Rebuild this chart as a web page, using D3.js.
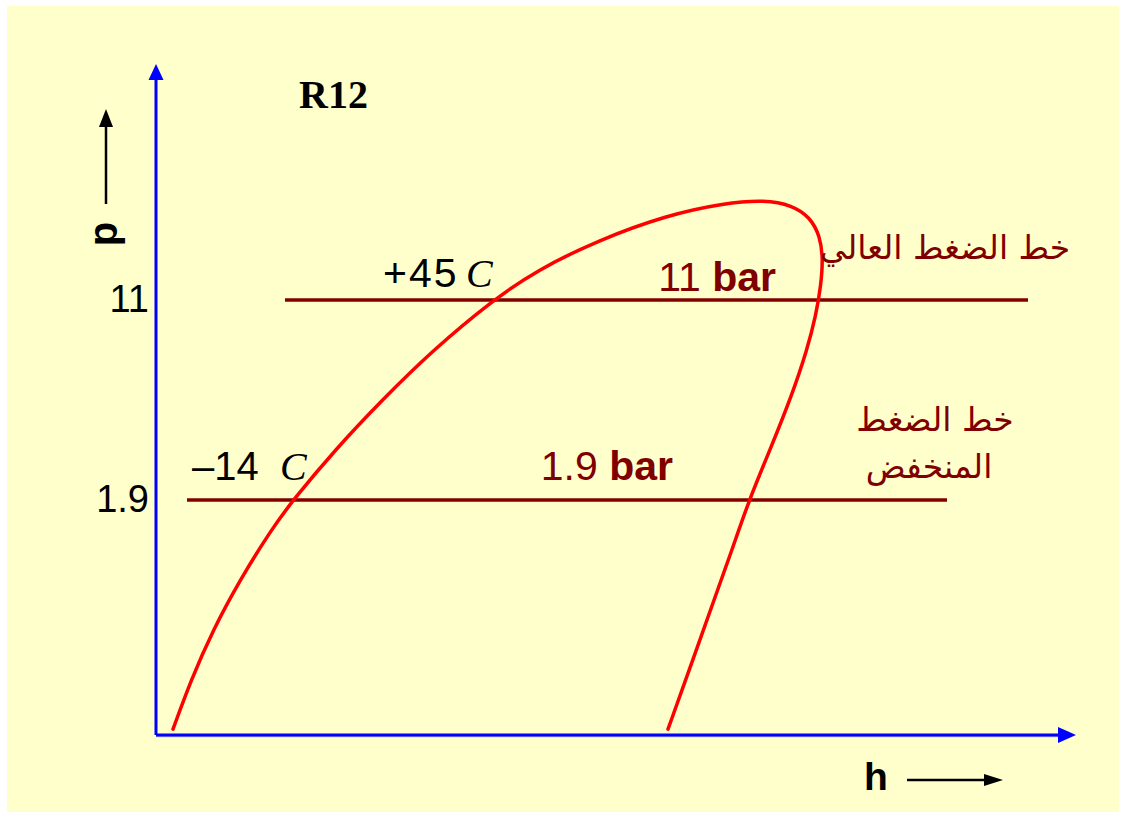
<!DOCTYPE html>
<html>
<head>
<meta charset="utf-8">
<script src="https://cdn.jsdelivr.net/npm/d3@7"></script>
<style>
body{margin:0;background:#fff;}
</style>
</head>
<body>
<script>
// saturation dome of R12, h in arbitrary units, p in bar
var domeH = [8.5,17.5,28.5,42,57.5,68.5,89.5,113,138.5,168.5,190.5,221,255.5,284.5,304.5,318,327,332,333.5,332.5,330,325.5,318,307,296.5,288,279,267.5,256];
var domeP = [0.254,0.391,0.607,0.942,1.46,1.9,2.95,4.57,7.09,11,14.3,18.6,23.2,25.8,26.5,25.3,22.8,19.3,15.9,12.55,9.64,7.09,4.78,2.95,1.9,1.225,0.79,0.446,0.254];

var pressures = [11,1.9];
var pressureLabels = ["11","1.9"];
var lineStart = [64.5,15.5];
var lineEnd = [436,395.5];

var width = 1123;
var height = 816;

var svg = d3.select("body")
.append("svg")
.attr("width",width)
.attr("height",height);

svg.append("rect")
.attr("x",7)
.attr("y",6)
.attr("width",1112)
.attr("height",806)
.attr("fill","#ffffcc");

var x0 = 156, y0 = 735;

var xScale = d3.scaleLinear()
.domain([0,460])
.range([x0,1076]);

var yScale = d3.scaleLog()
.domain([0.2414,87.4])
.range([y0,64]);

// axes
svg.append("line")
.attr("x1",x0).attr("y1",y0+1.5)
.attr("x2",1060).attr("y2",y0+1.5)
.attr("stroke","#b0b0b0").attr("stroke-width",1.5);

svg.append("line")
.attr("x1",x0).attr("y1",y0)
.attr("x2",1060).attr("y2",y0)
.attr("stroke","#0000ff").attr("stroke-width",3);

svg.append("line")
.attr("x1",x0).attr("y1",y0)
.attr("x2",x0).attr("y2",78)
.attr("stroke","#0000ff").attr("stroke-width",3);

svg.append("path")
.attr("d","M1076," + y0 + "L1058," + (y0-8) + "L1058," + (y0+8) + "Z")
.attr("fill","#0000ff");

svg.append("path")
.attr("d","M" + x0 + ",64L" + (x0-7.5) + ",80L" + (x0+7.5) + ",80Z")
.attr("fill","#0000ff");

var yAxis = d3.axisLeft(yScale)
.tickValues(pressures)
.tickFormat(function(d,i){ return pressureLabels[i]; })
.tickSize(0)
.tickPadding(7);

var gy = svg.append("g")
.attr("transform","translate(" + x0 + ",0)")
.call(yAxis);
gy.select(".domain").remove();
gy.selectAll("text")
.attr("font-family","Liberation Sans, Arial, sans-serif")
.attr("font-size","38px")
.attr("fill","#000")
.attr("dy","0.3em");

// pressure lines
svg.selectAll(".pline")
.data(pressures)
.enter()
.append("line")
.attr("class","pline")
.attr("x1",function(d,i){ return xScale(lineStart[i]); })
.attr("x2",function(d,i){ return xScale(lineEnd[i]); })
.attr("y1",function(d){ return yScale(d); })
.attr("y2",function(d){ return yScale(d); })
.attr("stroke","#800000")
.attr("stroke-width",3.5);

// dome
var line = d3.line()
.x(function(d){ return xScale(d[0]); })
.y(function(d){ return yScale(d[1]); })
.curve(d3.curveBasis);

svg.append("path")
.attr("d",line(d3.zip(domeH,domeP)))
.attr("fill","none")
.attr("stroke","#ff0000")
.attr("stroke-width",3.5)
.attr("stroke-linecap","round");

var sans = "Liberation Sans, Arial, sans-serif";
var serif = "Liberation Serif, Times New Roman, serif";

// temperature labels
svg.append("text")
.attr("x",383).attr("y",yScale(11)-13)
.attr("font-family",sans).attr("font-size","41px")
.attr("letter-spacing","2px").attr("fill","#000")
.text("+45");
svg.append("text")
.attr("x",466).attr("y",yScale(11)-13)
.attr("font-family",serif).attr("font-style","italic")
.attr("font-size","40px").attr("fill","#000")
.text("C");

svg.append("text")
.attr("x",192).attr("y",yScale(1.9)-20)
.attr("font-family",sans).attr("font-size","40px").attr("fill","#000")
.text("\u201314");
svg.append("text")
.attr("x",280).attr("y",yScale(1.9)-20)
.attr("font-family",serif).attr("font-style","italic")
.attr("font-size","40px").attr("fill","#000")
.text("C");

// bar labels
var b1 = svg.append("text")
.attr("x",776).attr("y",yScale(11)-9)
.attr("text-anchor","end")
.attr("font-family",sans).attr("font-size","41px").attr("fill","#800000");
b1.append("tspan").text("11 ");
b1.append("tspan").attr("font-weight","bold").text("bar");

var b2 = svg.append("text")
.attr("x",673).attr("y",yScale(1.9)-20)
.attr("text-anchor","end")
.attr("font-family",sans).attr("font-size","41px").attr("fill","#800000");
b2.append("tspan").text("1.9 ");
b2.append("tspan").attr("font-weight","bold").text("bar");

// arabic labels
var arab = "DejaVu Sans, sans-serif";
svg.append("text")
.attr("x",945).attr("y",259)
.attr("text-anchor","middle")
.attr("font-family",arab)
.attr("font-size","33px").attr("fill","#800000")
.text("خط الضغط العالي");

svg.append("text")
.attr("x",935).attr("y",431)
.attr("text-anchor","middle")
.attr("font-family",arab)
.attr("font-size","33px").attr("fill","#800000")
.text("خط الضغط");

svg.append("text")
.attr("x",929).attr("y",478)
.attr("text-anchor","middle")
.attr("font-family",arab)
.attr("font-size","33px").attr("fill","#800000")
.text("المنخفض");

// title
svg.append("text")
.attr("x",299).attr("y",108)
.attr("font-family",serif).attr("font-weight","bold")
.attr("font-size","40px").attr("fill","#000")
.text("R12");

// p label with arrow
svg.append("text")
.attr("transform","translate(117,234) rotate(-90)")
.attr("text-anchor","middle")
.attr("font-family",sans).attr("font-weight","bold")
.attr("font-size","40px").attr("fill","#000")
.text("p");

svg.append("line")
.attr("x1",106).attr("y1",204).attr("x2",106).attr("y2",125)
.attr("stroke","#000").attr("stroke-width",2.5);
svg.append("path")
.attr("d","M106,109L99,127L113,127Z")
.attr("fill","#000");

// h label with arrow
svg.append("text")
.attr("x",864).attr("y",790)
.attr("font-family",sans).attr("font-weight","bold")
.attr("font-size","39px").attr("fill","#000")
.text("h");

svg.append("line")
.attr("x1",907).attr("y1",780).attr("x2",988).attr("y2",780)
.attr("stroke","#000").attr("stroke-width",2.5);
svg.append("path")
.attr("d","M1003,780L984,774L984,786Z")
.attr("fill","#000");
</script>
</body>
</html>
